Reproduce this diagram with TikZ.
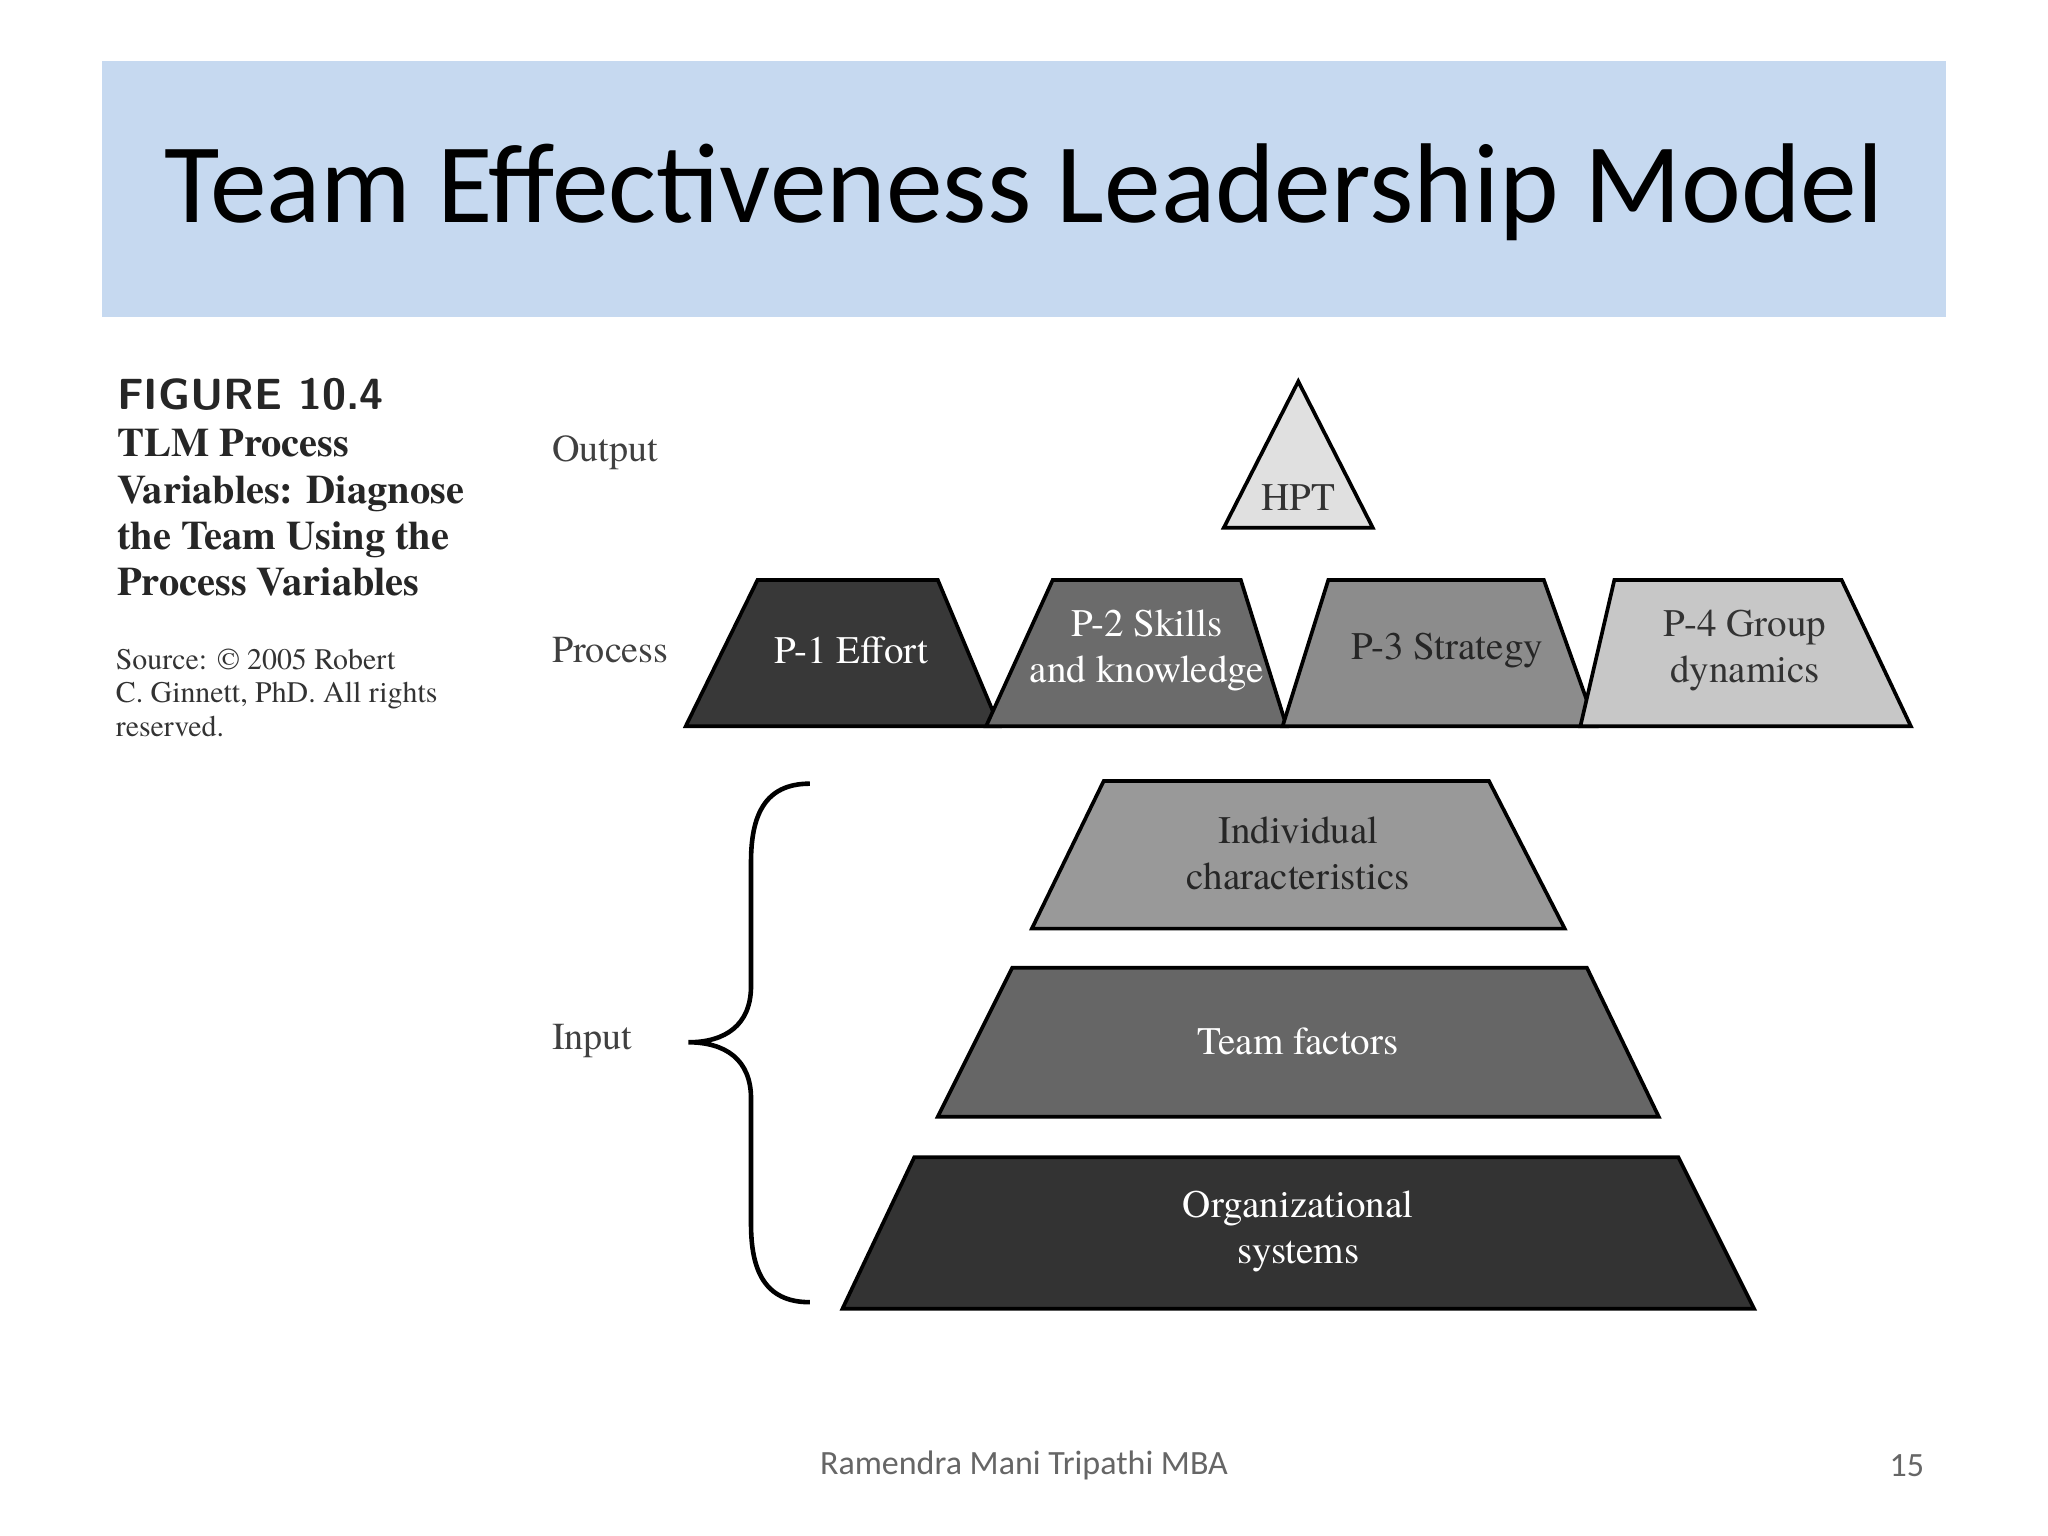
\documentclass[tikz,border=0pt]{standalone}
\usepackage{fontspec}
\newfontfamily\carl{Carlito}
\newfontfamily\serf{TeX Gyre Termes}
\begin{document}
\begin{tikzpicture}[x=0.01cm,y=-0.01cm,
  trap/.style={draw=black,line width=0.8pt},
  lab/.style={font=\serf\fontsize{8.5}{10}\selectfont,align=center,inner sep=0},
  side/.style={font=\serf\fontsize{8.3}{9}\selectfont,anchor=west,text=black!75,inner sep=0}]
\useasboundingbox (0,0) rectangle (1568,1176);
\fill[white] (0,0) rectangle (1568,1176);
\fill[fill={rgb,255:red,198;green,217;blue,240}] (78,47) rectangle (1490,243);
\node[font=\carl\fontsize{24.7}{30}\selectfont] (title) at (784,147) {Team Effectiveness Leadership Model};
% left caption
\node[anchor=west,inner sep=0,font=\sffamily\bfseries\fontsize{9.5}{11}\selectfont,text=black!85] (fig) at (89,302) {FIGURE 10.4};
\node[anchor=north west,inner sep=0,align=left,font=\serf\bfseries\fontsize{8.8}{10.1}\selectfont,text=black!85] (cap) at (89,328) {TLM Process\\Variables: Diagnose\\the Team Using the\\Process Variables};
\node[anchor=north west,inner sep=0,align=left,font=\serf\fontsize{6.5}{7.3}\selectfont,text=black!80] (src) at (88,496) {Source: \textcopyright\ 2005 Robert\\C. Ginnett, PhD. All rights\\reserved.};
% side labels
\node[side] (out) at (422,347) {Output};
\node[side] (proc) at (422,498) {Process};
\node[side] (inp) at (422,797) {Input};
% HPT
\draw[trap,fill=black!12] (994,292) -- (1051,404) -- (937,404) -- cycle;
\node[lab,text=black!80] (hpt) at (994,381) {HPT};
% process
\draw[trap,fill=black!78] (525,556) -- (580,444) -- (718,444) -- (765,556) -- cycle;
\node[lab,text=white] (p1) at (652,498) {P-1 Effort};
\draw[trap,fill=black!58] (755,556) -- (806,444) -- (950,444) -- (985,556) -- cycle;
\node[lab,text=white] (p2) at (878,498) {P-2 Skills\\and knowledge};
\draw[trap,fill=black!45] (982,556) -- (1017,444) -- (1182,444) -- (1222,556) -- cycle;
\node[lab,text=black!85] (p3) at (1108,498) {P-3 Strategy};
\draw[trap,fill=black!22] (1210,556) -- (1236,444) -- (1410,444) -- (1463,556) -- cycle;
\node[lab,text=black!80] (p4) at (1336,498) {P-4 Group\\dynamics};
% input
\draw[trap,fill=black!40] (790,711) -- (845,598) -- (1140,598) -- (1198,711) -- cycle;
\node[lab,text=black!85] (ind) at (994,653) {Individual\\characteristics};
\draw[trap,fill=black!60] (718,855) -- (775,741) -- (1215,741) -- (1270,855) -- cycle;
\node[lab,text=white] (team) at (994,797) {Team factors};
\draw[trap,fill=black!80] (645,1002) -- (700,886) -- (1285,886) -- (1343,1002) -- cycle;
\node[lab,text=white] (org) at (994,943) {Organizational\\systems};
% brace
\coordinate (bt) at (620,600);
\coordinate (bb) at (620,997);
\coordinate (tip) at (527,798);
\draw[line width=1pt] (bt) .. controls (585,600) and (575,625) .. (575,660) -- (575,755) .. controls (575,785) and (555,798) .. (tip)
  .. controls (555,798) and (575,811) .. (575,841) -- (575,937) .. controls (575,972) and (585,997) .. (bb);
% footer
\node[font=\carl\fontsize{7.4}{8}\selectfont,text=black!60] (foot) at (784,1122) {Ramendra Mani Tripathi MBA};
\node[font=\carl\fontsize{7.4}{8}\selectfont,text=black!60] (pg) at (1460,1122) {15};
\end{tikzpicture}
\end{document}
